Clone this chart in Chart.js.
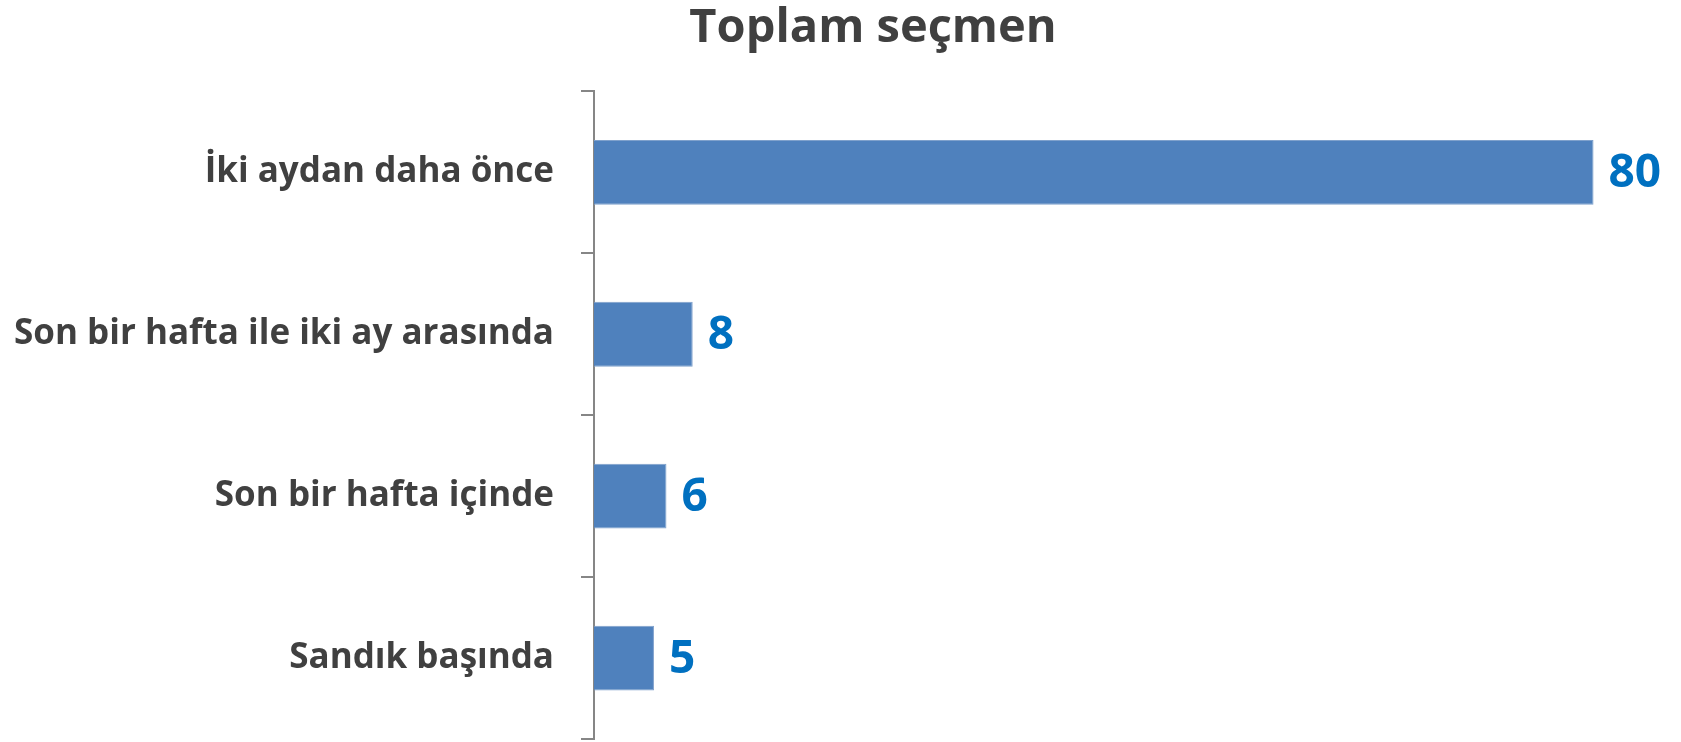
<!DOCTYPE html>
<html>
<head>
<meta charset="utf-8">
<script src="https://cdn.jsdelivr.net/npm/chart.js@4/dist/chart.umd.min.js"></script>
<style>
    html, body { margin: 0; padding: 0; background: #fff; }
    #wrap { width: 1681px; height: 742px; }
</style>
</head>
<body>
<div id="wrap"><canvas id="chart" width="1681" height="742"></canvas></div>
<script>
var categories = ['İki aydan daha önce', 'Son bir hafta ile iki ay arasında', 'Son bir hafta içinde', 'Sandık başında'];
var values = [80, 7.9, 5.8, 4.8];
var valueLabels = ['80', '8', '6', '5'];

var FONT = "'Open Sans', sans-serif";

// draws the blue number to the right of each bar
var barValues = {
    id: 'barValues',
    afterDatasetsDraw: function (chart) {
        var ctx = chart.ctx;
        var meta = chart.getDatasetMeta(0);
        ctx.save();
        ctx.font = 'bold 46px ' + FONT;
        ctx.fillStyle = '#0070C0';
        ctx.textAlign = 'left';
        ctx.textBaseline = 'middle';
        for (var i = 0; i < meta.data.length; i++) {
            var bar = meta.data[i];
            ctx.fillText(valueLabels[i], bar.x + 15, bar.y + 2);
        }
        ctx.restore();
    }
};

var ctx = document.getElementById('chart');
var myChart = new Chart(ctx, {
    type: 'bar',
    data: {
        labels: categories,
        datasets: [{
            data: values,
            backgroundColor: '#4F81BD',
            borderColor: '#7FA1CC',
            borderWidth: 1,
            categoryPercentage: 0.4,
            barPercentage: 1
        }]
    },
    options: {
        indexAxis: 'y',
        responsive: false,
        animation: false,
        layout: {
            // negative right padding pushes the title centre to the right
            padding: { left: 0, right: -65, top: 0, bottom: 3 }
        },
        plugins: {
            legend: { display: false },
            tooltip: { enabled: false },
            title: {
                display: true,
                text: 'Toplam seçmen',
                color: '#404040',
                font: { family: FONT, size: 47, weight: 'bold', lineHeight: 1.2 },
                padding: { top: 0, bottom: 35 }
            }
        },
        scales: {
            x: {
                display: false,
                min: 0,
                max: 87
            },
            y: {
                afterFit: function (scale) {
                    scale.width = 594;
                    scale.paddingTop = 0;
                    scale.paddingBottom = 0;
                },
                border: { display: true, color: '#868686', width: 2 },
                grid: {
                    drawOnChartArea: false,
                    drawTicks: true,
                    tickLength: 13,
                    color: '#868686',
                    lineWidth: 2
                },
                ticks: {
                    color: '#404040',
                    padding: 27,
                    font: { family: FONT, size: 35, weight: 'bold' }
                }
            }
        }
    },
    plugins: [barValues]
});
</script>
</body>
</html>
